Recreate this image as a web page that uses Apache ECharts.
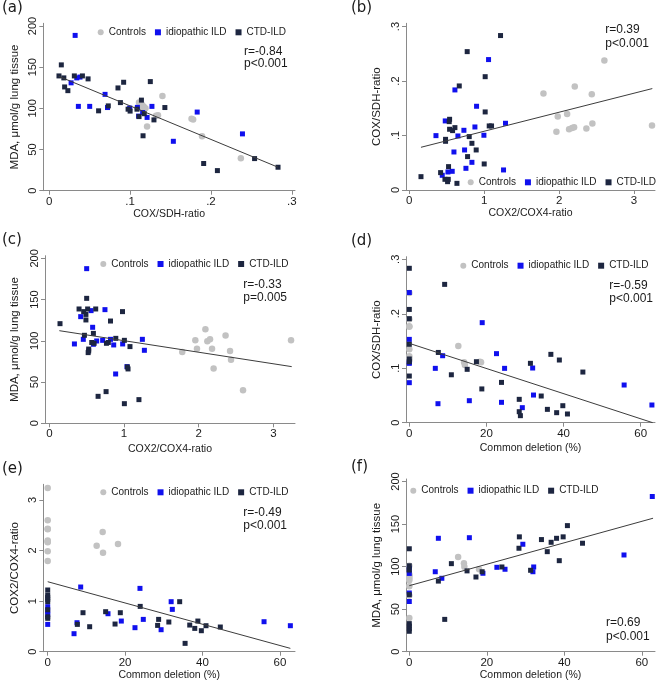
<!DOCTYPE html>
<html>
<head>
<meta charset="utf-8">
<script src="https://cdn.jsdelivr.net/npm/echarts@6/dist/echarts.min.js"></script>
<style>
html, body { margin: 0; padding: 0; background: #fff; }
#main { width: 658px; height: 684px; }
</style>
</head>
<body>
<div id="main"></div>
<script>
var groupNames = ['Controls', 'idiopathic ILD', 'CTD-ILD'];

// (a) COX/SDH-ratio vs MDA
var aCtrl = [[0.14,115],[0.111,107],[0.117,102],[0.119,100],[0.115,104],[0.121,78],[0.1345,91.5],[0.132,91],[0.176,87.5],[0.178,86.5],[0.189,66],[0.237,39.5],[0.113,101]];
var aIdio = [[0.032,188.6],[0.027,131],[0.034,137],[0.038,138],[0.036,102.4],[0.05,102.4],[0.069,117],[0.072,101],[0.0995,100.4],[0.109,101.2],[0.1105,90.6],[0.121,89],[0.127,102.4],[0.1155,95],[0.1535,60],[0.183,95.5],[0.239,69]];
var aCtd = [[0.0149,152.8],[0.012,139.4],[0.018,137],[0.019,126],[0.023,121.5],[0.031,139.4],[0.041,139.4],[0.048,135.8],[0.061,97],[0.073,103],[0.085,124.8],[0.092,131.7],[0.088,107],[0.0975,99],[0.1,96.7],[0.1085,99],[0.111,90],[0.114,110],[0.116,66.7],[0.1175,93.5],[0.125,132.5],[0.1295,86],[0.143,101],[0.191,33],[0.208,24.4],[0.254,39],[0.283,28.5]];
var aFit = [[0.0115,139],[0.283,28.5]];

// (b) COX2/COX4-ratio vs COX/SDH-ratio
var bCtrl = [[1.791,0.177],[1.964,0.107],[1.982,0.1348],[2.107,0.1397],[2.133,0.1115],[2.173,0.1139],[2.2,0.1151],[2.209,0.19],[2.364,0.1127],[2.436,0.1758],[2.444,0.1219],[2.604,0.2376],[3.24,0.1182]];
var bIdio = [[1.058,0.2394],[0.609,0.1837],[0.898,0.1537],[0.48,0.1268],[0.729,0.1096],[0.876,0.1157],[0.649,0.0992],[0.356,0.0998],[0.996,0.1005],[1.284,0.1225],[0.596,0.0698],[0.738,0.0735],[0.836,0.0508],[0.756,0.0398],[1.258,0.0368],[0.573,0.0343],[0.516,0.0331],[0.44,0.027]];
var bCtd = [[1.218,0.2835],[0.773,0.254],[1.013,0.208],[0.667,0.191],[1.013,0.1433],[0.538,0.1298],[0.533,0.1255],[0.538,0.1115],[0.609,0.1145],[0.578,0.109],[0.484,0.093],[0.484,0.0894],[0.8,0.098],[0.836,0.0857],[0.893,0.0735],[0.778,0.0613],[1.0,0.0478],[1.067,0.1176],[1.098,0.1176],[0.524,0.0429],[0.418,0.0319],[0.156,0.0245],[0.476,0.0196],[0.511,0.0153],[0.52,0.0196],[0.636,0.0122]];
var bFit = [[0.156,0.0784],[3.244,0.1862]];

// (c) COX2/COX4-ratio vs MDA
var cCtrl = [[1.78,86.5],[1.955,100.6],[1.977,90.5],[2.09,114],[2.116,99.4],[2.152,101.8],[2.179,90.5],[2.2,66.3],[2.36,106.3],[2.42,87.7],[2.433,77.2],[2.594,40],[3.237,100.6]];
var cIdio = [[0.5,187.5],[0.42,129.3],[0.559,136.6],[0.745,137.8],[0.58,116.4],[0.336,96.2],[0.455,101.8],[0.634,99.8],[0.714,100.6],[0.819,101.8],[0.862,95],[0.982,96.2],[1.246,101.8],[1.273,88.5],[0.888,59.8],[0.59,95.8],[1.04,68.7]];
var cCtd = [[0.5,151.5],[0.398,138.6],[0.513,138.6],[0.621,138.6],[0.46,135.4],[0.49,132],[0.49,125.3],[0.143,120.8],[0.98,135.4],[0.819,124],[0.47,106.7],[0.59,109],[0.568,98],[0.6,97],[0.765,97],[0.79,98],[0.89,103],[1.005,100.6],[1.08,93],[0.527,90],[0.527,87.7],[0.52,85.7],[1.045,68.3],[1.054,65.9],[0.76,38.4],[0.653,32.7],[1.005,23.8],[1.2,28.7]];
var cFit = [[0.134,112.3],[3.246,68.7]];

// (d) Common deletion vs COX/SDH-ratio
var dCtrl = [[0,0.238],[0,0.19],[0,0.177],[0,0.176],[0,0.135],[0,0.122],[0,0.118],[0,0.114],[12.7,0.1408],[14.2,0.1108],[14.4,0.106],[18.3,0.112],[18.6,0.1108]];
var dIdio = [[0,0.239],[0,0.153],[0,0.111],[0,0.109],[0,0.0735],[18.9,0.1837],[8.64,0.123],[6.74,0.0998],[7.43,0.0349],[15.56,0.0404],[22.6,0.1268],[23.9,0.0374],[24.7,0.0998],[31.98,0.1004],[32.2,0.0508],[29.3,0.0276],[55.7,0.0692],[62.9,0.0325]];
var dCtd = [[0,0.2835],[0,0.208],[0,0.191],[0,0.144],[0,0.117],[0,0.112],[0,0.0857],[9.16,0.254],[7.52,0.129],[10.9,0.088],[15,0.098],[17.4,0.112],[18.8,0.062],[23.9,0.074],[28.5,0.0429],[28.5,0.0202],[28.8,0.0129],[31.4,0.109],[34.2,0.049],[35.8,0.0245],[36.7,0.1255],[38.2,0.0184],[38.9,0.1151],[39.8,0.0312],[41,0.016],[45,0.093]];
var dFit = [[0,0.1457],[63.1,0]];

// (e) Common deletion vs COX2/COX4-ratio
var eCtrl = [[0,3.237],[0,2.597],[0,2.432],[0,2.42],[0,2.2],[0,2.18],[0,2.162],[0,1.984],[0,1.793],[12.65,2.096],[14.2,2.367],[14.29,1.958],[18.16,2.129]];
var eIdio = [[0,0.89],[0,0.8],[0,0.738],[0,0.54],[8.52,1.279],[6.8,0.356],[7.57,0.573],[15.58,0.751],[19.02,0.606],[22.55,0.475],[23.84,1.252],[24.7,0.639],[29.3,0.435],[31.9,0.989],[32.2,0.837],[55.9,0.593],[62.7,0.514]];
var eCtd = [[0,1.22],[0,1.12],[0,1.075],[0,1.035],[0,0.99],[0,0.83],[0,0.69],[0,0.66],[23.9,0.896],[9.12,0.771],[14.97,0.791],[18.76,0.771],[7.66,0.54],[10.84,0.494],[17.4,0.547],[28.66,0.639],[28.4,0.52],[31.3,0.587],[34.1,0.989],[36.7,0.527],[38.0,0.461],[38.8,0.606],[39.7,0.415],[40.9,0.514],[44.6,0.488],[35.5,0.165]];
var eFit = [[0,1.384],[62.7,0.066]];

// (f) Common deletion vs MDA
var fCtrl = [[0,101],[0,91],[0,90],[0,88],[0,86],[0,84],[0,77],[0,66],[0,39.5],[12.6,111.4],[14.1,104],[14.2,100],[18,96.9]];
var fIdio = [[0,98],[0,92],[0,69],[0,59],[7.5,133.3],[6.7,94],[8.4,86.3],[15.5,134],[19,92.2],[22.6,99.2],[24.7,96.9],[29.3,126.3],[31.9,94],[32.1,99.6],[55.4,113.7],[62.7,182.4]];
var fCtd = [[0,121],[0,101],[0,96],[0,67],[0,33],[0,30],[0,27],[0,24],[9.14,38],[7.5,83],[10.86,103.5],[14.9,95],[17.2,87.8],[18.8,94],[23.9,99.6],[28.4,135],[28.3,121.6],[31.3,95.7],[34.1,131.8],[35.6,117.6],[36.6,128.6],[38.0,133.3],[38.7,107],[39.7,135],[40.8,148.2],[44.7,127.5]];
var fFit = [[0,77.6],[62.9,156.9]];

// tick values
var ratioTicks = [0, 0.1, 0.2, 0.3];
var mdaTicks = [0, 50, 100, 150, 200];
var coxTicks = [0, 1, 2, 3];
var delTicks = [0, 20, 40, 60];

var stats = [['r=-0.84', 'p<0.001'], ['r=0.39', 'p<0.001'], ['r=-0.33', 'p=0.005'],
             ['r=-0.59', 'p<0.001'], ['r=-0.49', 'p<0.001'], ['r=0.69', 'p<0.001']];
var panelTags = ['(a)', '(b)', '(c)', '(d)', '(e)', '(f)'];

var mdaName = 'MDA, μmol/g lung tissue';
var panels = [
    { data: [aCtrl, aIdio, aCtd], fit: aFit, xName: 'COX/SDH-ratio', yName: mdaName, xTicks: ratioTicks, yTicks: mdaTicks,
      box: [43.3, 23.3, 251.7, 167.4], xr: [-0.0074, 0.304], yr: [0, 203.3],
      leg: [97.7, 27.3], st: [244, 51.7, 63.5], tag: [2, 1], xGap: 18, yGap: 22 },
    { data: [bCtrl, bIdio, bCtd], fit: bFit, xName: 'COX2/COX4-ratio', yName: 'COX/SDH-ratio', xTicks: coxTicks, yTicks: ratioTicks,
      box: [406, 23.3, 249, 166.7], xr: [-0.044, 3.28], yr: [0, 0.306],
      leg: [467.7, 177.3], st: [605.3, 29.3, 43.3], tag: [351, 1], xGap: 18, yGap: 23 },
    { data: [cCtrl, cIdio, cCtd], fit: cFit, xName: 'COX2/COX4-ratio', yName: mdaName, xTicks: coxTicks, yTicks: mdaTicks,
      box: [45, 255.7, 250, 167.6], xr: [-0.058, 3.29], yr: [0, 203.2],
      leg: [100.3, 259], st: [243.3, 284.3, 297.7], tag: [2, 233], xGap: 20, yGap: 24 },
    { data: [dCtrl, dIdio, dCtd], fit: dFit, xName: 'Common deletion (%)', yName: 'COX/SDH-ratio', xTicks: delTicks, yTicks: ratioTicks,
      box: [406, 256.7, 249, 166], xr: [-0.86, 63.7], yr: [0, 0.3048],
      leg: [460.3, 260.7], st: [609.3, 286, 299], tag: [351, 234], xGap: 20, yGap: 23 },
    { data: [eCtrl, eIdio, eCtd], fit: eFit, xName: 'Common deletion (%)', yName: 'COX2/COX4-ratio', xTicks: delTicks, yTicks: coxTicks,
      box: [43.3, 484.3, 251.7, 167.4], xr: [-1.14, 63.9], yr: [0, 3.31],
      leg: [100.3, 487.3], st: [243.3, 512.7, 526], tag: [2, 462], xGap: 18, yGap: 22 },
    { data: [fCtrl, fIdio, fCtd], fit: fFit, xName: 'Common deletion (%)', yName: mdaName, xTicks: delTicks, yTicks: mdaTicks,
      box: [406, 479, 249, 172.7], xr: [-0.85, 63.4], yr: [0, 203],
      leg: [410.3, 485.7], st: [606, 622.7, 636.7], tag: [351, 460], xGap: 18, yGap: 23 }
];

var font = "'Liberation Sans', Arial, sans-serif";
var axisGray = '#8a8a8a';
var textCol = '#1a1a1a';
var colors = ['#c2c2c2', '#1010ee', '#1d2640'];
var symbols = ['circle', 'rect', 'rect'];
var sizes = [6.5, 5, 5];

function tickText(v) {
    if (v === 0) return '0';
    return String(Number(v.toFixed(2))).replace(/^0\./, '.');
}

var grids = [], xAxes = [], yAxes = [], series = [], legends = [], graphics = [];

panels.forEach(function (p, i) {
    grids.push({ left: p.box[0], top: p.box[1], width: p.box[2], height: p.box[3], containLabel: false });
    xAxes.push({
        gridIndex: i, type: 'value', min: p.xr[0], max: p.xr[1],
        name: p.xName, nameLocation: 'middle', nameGap: p.xGap,
        nameTextStyle: { fontFamily: font, fontSize: 10.5, color: textCol },
        axisLine: { show: true, onZero: false, lineStyle: { color: axisGray, width: 1 } },
        axisTick: { show: true, length: 4, customValues: p.xTicks, lineStyle: { color: axisGray } },
        axisLabel: { customValues: p.xTicks, formatter: tickText, margin: 5, fontFamily: font, fontSize: 11.5, color: textCol },
        splitLine: { show: false }
    });
    yAxes.push({
        gridIndex: i, type: 'value', min: p.yr[0], max: p.yr[1],
        name: p.yName, nameLocation: 'middle', nameGap: p.yGap, nameRotate: 90,
        nameTextStyle: { fontFamily: font, fontSize: 11.5, color: textCol },
        axisLine: { show: true, onZero: false, lineStyle: { color: axisGray, width: 1 } },
        axisTick: { show: true, length: 4, customValues: p.yTicks, lineStyle: { color: axisGray } },
        axisLabel: { customValues: p.yTicks, formatter: tickText, rotate: 90, margin: 5, fontFamily: font, fontSize: 11, color: textCol },
        splitLine: { show: false }
    });
    p.data.forEach(function (d, g) {
        series.push({
            type: 'scatter', name: groupNames[g], xAxisIndex: i, yAxisIndex: i,
            data: d, symbol: symbols[g], symbolSize: sizes[g],
            itemStyle: { color: colors[g], opacity: 1 }, silent: true
        });
    });
    series.push({
        type: 'line', name: 'fit' + i, xAxisIndex: i, yAxisIndex: i,
        data: p.fit, symbol: 'none', silent: true,
        lineStyle: { color: '#3c3c3c', width: 1 }, z: 3
    });
    legends.push({
        left: p.leg[0], top: p.leg[1], width: 260, orient: 'horizontal', padding: 0,
        data: groupNames, itemWidth: 6, itemHeight: 6, itemGap: 9, selectedMode: false,
        textStyle: { fontFamily: font, fontSize: 10, color: textCol }
    });
    graphics.push({ type: 'text', x: p.tag[0], y: p.tag[1],
        style: { text: panelTags[i], fontFamily: 'DejaVu Sans', fontSize: 15, fill: textCol } });
    graphics.push({ type: 'text', x: p.st[0], y: p.st[1],
        style: { text: stats[i][0], fontFamily: font, fontSize: 12, fill: textCol, verticalAlign: 'middle' } });
    graphics.push({ type: 'text', x: p.st[0], y: p.st[2],
        style: { text: stats[i][1], fontFamily: font, fontSize: 12, fill: textCol, verticalAlign: 'middle' } });
});

var myChart = echarts.init(document.getElementById('main'));
var option = {
    animation: false,
    backgroundColor: '#ffffff',
    grid: grids,
    xAxis: xAxes,
    yAxis: yAxes,
    legend: legends,
    graphic: graphics,
    series: series
};
myChart.setOption(option);
</script>
</body>
</html>
